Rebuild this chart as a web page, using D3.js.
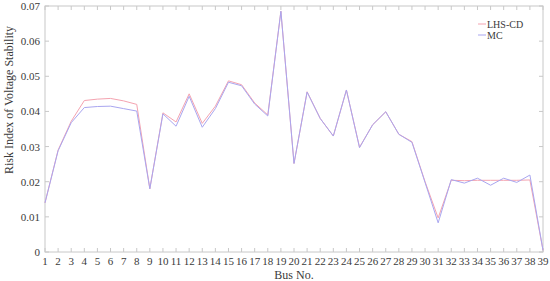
<!DOCTYPE html>
<html><head><meta charset="utf-8">
<script src="https://cdn.jsdelivr.net/npm/d3@7"></script>
<style>body{margin:0;background:#fff;} svg{display:block;}</style>
</head><body>
<svg id="c" width="550" height="281"></svg>
<script>
const buses = d3.range(1, 40);
const lhsCD = [0.0140,0.0290,0.0372,0.0431,0.0435,0.0437,0.0430,0.0420,0.0180,0.0396,0.0370,0.0450,0.0366,0.0415,0.0487,0.0476,0.0424,0.0390,0.0685,0.0252,0.0456,0.0380,0.0330,0.0461,0.0298,0.0362,0.0399,0.0335,0.0314,0.0200,0.0097,0.0204,0.0203,0.0204,0.0204,0.0204,0.0204,0.0205,0.0005];
const mc    = [0.0140,0.0288,0.0368,0.0411,0.0414,0.0415,0.0408,0.0401,0.0180,0.0393,0.0358,0.0443,0.0355,0.0408,0.0483,0.0473,0.0421,0.0387,0.0685,0.0252,0.0455,0.0380,0.0330,0.0461,0.0297,0.0362,0.0399,0.0335,0.0312,0.0198,0.0083,0.0206,0.0196,0.0210,0.0190,0.0210,0.0198,0.0219,0.0005];
const yTicks = [0,0.01,0.02,0.03,0.04,0.05,0.06,0.07];
const seriesNames = ["LHS-CD","MC"];
const colors = ["#f4a3b0","#a9a6f0"];

const svg = d3.select("#c");
const L=45, R=543, T=6, B=252;
const x = d3.scaleLinear().domain([1,39]).range([L,R]);
const y = d3.scaleLinear().domain([0,0.07]).range([B,T]);
const axisCol = "#c8c8c8", textCol = "#3a3a3a";
const font = "Liberation Serif, Times New Roman, serif";

svg.append("rect").attr("x",L).attr("y",T).attr("width",R-L).attr("height",B-T)
  .attr("fill","none").attr("stroke",axisCol).attr("stroke-width",1);

const tl = 4;
const g = svg.append("g").attr("stroke",axisCol).attr("stroke-width",1);
buses.forEach(b=>{
  g.append("line").attr("x1",x(b)).attr("x2",x(b)).attr("y1",B).attr("y2",B-tl);
  g.append("line").attr("x1",x(b)).attr("x2",x(b)).attr("y1",T).attr("y2",T+tl);
});
yTicks.forEach(t=>{
  g.append("line").attr("x1",L).attr("x2",L+tl).attr("y1",y(t)).attr("y2",y(t));
  g.append("line").attr("x1",R).attr("x2",R-tl).attr("y1",y(t)).attr("y2",y(t));
});

svg.append("g").selectAll("text").data(buses).join("text")
  .attr("x",d=>x(d)).attr("y",B+13).attr("text-anchor","middle")
  .attr("font-family",font).attr("font-size",11).attr("fill",textCol).text(d=>d);
svg.append("g").selectAll("text").data(yTicks).join("text")
  .attr("x",L-5).attr("y",d=>y(d)+4).attr("text-anchor","end")
  .attr("font-family",font).attr("font-size",11).attr("fill",textCol).text(d=>d===0?"0":d.toFixed(2));

svg.append("text").attr("x",(L+R)/2).attr("y",279).attr("text-anchor","middle")
  .attr("font-family",font).attr("font-size",12).attr("fill",textCol).text("Bus No.");
svg.append("text").attr("transform",`translate(13,100) rotate(-90)`).attr("text-anchor","middle")
  .attr("font-family",font).attr("font-size",12).attr("fill",textCol).text("Risk Index of Voltage Stability");

const line = d3.line().x((d,i)=>x(buses[i])).y(d=>y(d));
[lhsCD, mc].forEach((s,i)=>{
  svg.append("path").attr("d",line(s)).attr("fill","none").attr("stroke",colors[i]).attr("stroke-width",1);
});

seriesNames.forEach((n,i)=>{
  const yy = 24 + i*11;
  svg.append("line").attr("x1",478).attr("x2",486).attr("y1",yy).attr("y2",yy).attr("stroke",colors[i]);
  svg.append("text").attr("x",487).attr("y",yy+3.5).attr("font-family",font).attr("font-size",10)
    .attr("fill",textCol).text(n);
});
</script>
</body></html>
